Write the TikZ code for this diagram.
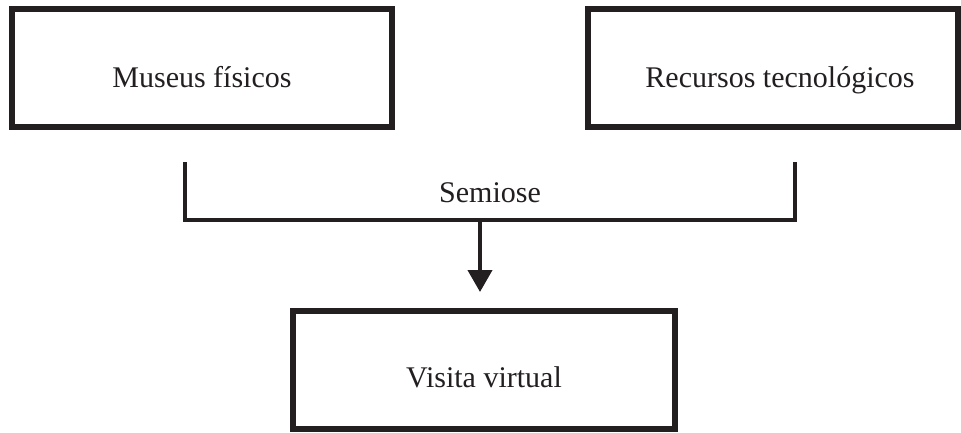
\documentclass[tikz,border=0pt]{standalone}
\usepackage{fontspec}
\setmainfont{Liberation Serif}
\usetikzlibrary{arrows.meta}
\definecolor{ink}{RGB}{35,31,32}
\begin{document}
\begin{tikzpicture}[x=1pt,y=-1pt,
  box/.style={draw=ink, line width=6pt, fill=white, rectangle, inner sep=0pt, minimum height=118pt},
  lbl/.style={text=ink, font=\fontsize{30}{36}\selectfont, anchor=base, inner sep=0pt},
  bracket/.style={draw=ink, line width=4pt},
  flow/.style={draw=ink, line width=4pt, -{Triangle[width=24pt,length=22pt]}}]
\useasboundingbox (0,0) rectangle (961,432);
\fill[white] (0,0) rectangle (961,432);
% boxes
\node[box, minimum width=380pt] (museus) at (202,68) {};
\node[box, minimum width=370pt] (recursos) at (773,68) {};
\node[box, minimum width=382pt] (visita) at (484,370) {};
% labels
\node[lbl] (tmuseus) at (202,87) {Museus físicos};
\node[lbl] (trecursos) at (780,87) {Recursos tecnológicos};
\node[lbl] (tvisita) at (484,387) {Visita virtual};
\node[lbl] (tsemiose) at (490,202) {Semiose};
% bracket
\coordinate (bl) at (185,162);
\coordinate (blc) at (185,220);
\coordinate (brc) at (795,220);
\coordinate (br) at (795,162);
\coordinate (amid) at (480,220);
\coordinate (atip) at (480,292);
\draw[bracket, line join=miter] (bl) -- (blc) -- (brc) -- (br);
\draw[flow] (amid) -- (atip);
\end{tikzpicture}
\end{document}
